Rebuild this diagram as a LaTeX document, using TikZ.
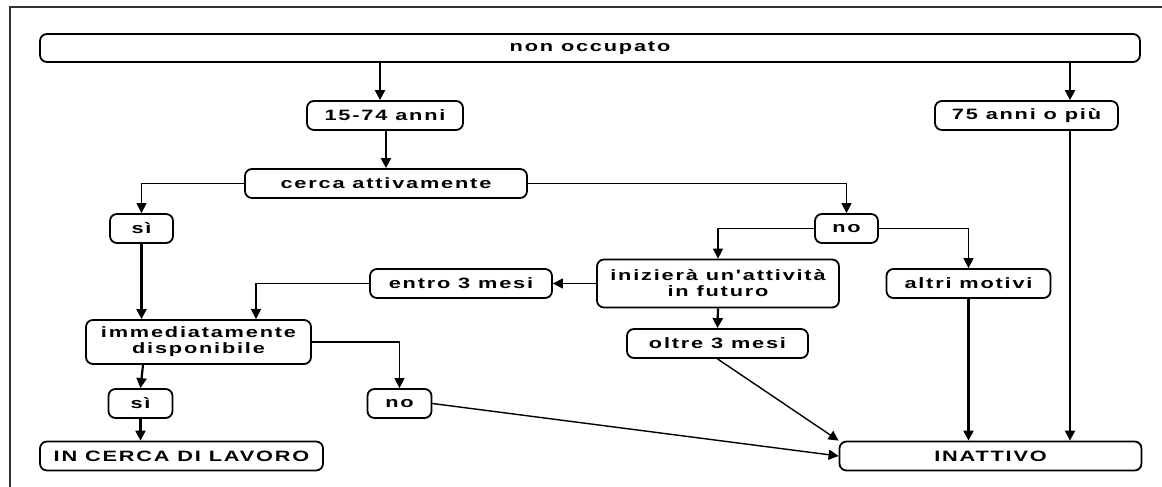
\documentclass[tikz,border=0pt]{standalone}
\usepackage{fontspec}
\newfontfamily\lab[FakeStretch=1.45,LetterSpace=12]{Liberation Sans}
\usetikzlibrary{arrows.meta}
\begin{document}
\begin{tikzpicture}[x=1pt,y=-1pt,
  box/.style={draw,line width=1.8pt,rounded corners=7pt,inner sep=0pt,align=center,
    font=\lab\bfseries\fontsize{15}{16}\selectfont},
  arr/.style={line width=2.2pt,-{Triangle[length=10pt,width=10pt]}},
  ln/.style={line width=1.4pt},
  lnarr/.style={line width=1.4pt,-{Triangle[length=10pt,width=10pt]}}]
\useasboundingbox (0,0) rectangle (1162,487);
\draw[line width=2pt,black!80] (10,487) -- (10,7) -- (1162,7);
\node[box,minimum width=1100pt,minimum height=28pt] (top) at (590,48) {non occupato};
\node[box,minimum width=156pt,minimum height=29pt] (a1574) at (385,115.5) {15-74 anni};
\node[box,minimum width=183pt,minimum height=29pt] (a75) at (1026.5,115.5) {75 anni o più};
\node[box,minimum width=282pt,minimum height=29pt] (cerca) at (386,183.5) {cerca attivamente};
\node[box,minimum width=63pt,minimum height=29pt] (si1) at (141.5,228.5) {sì};
\node[box,minimum width=63pt,minimum height=29pt] (no1) at (846.5,228.5) {no};
\node[box,minimum width=242pt,minimum height=48pt] (iniz) at (718,283.5) {inizierà un'attività\\in futuro};
\node[box,minimum width=182pt,minimum height=29pt] (entro) at (461,283.5) {entro 3 mesi};
\node[box,minimum width=164pt,minimum height=29pt] (altri) at (968.5,283.5) {altri motivi};
\node[box,minimum width=181pt,minimum height=29pt] (oltre) at (717.5,343.5) {oltre 3 mesi};
\node[box,minimum width=225pt,minimum height=44pt] (imm) at (198.5,342) {immediatamente\\disponibile};
\node[box,minimum width=64pt,minimum height=29pt] (no2) at (399.5,403.5) {no};
\node[box,minimum width=64pt,minimum height=29pt] (si2) at (140.5,403.5) {sì};
\node[box,minimum width=283pt,minimum height=29pt] (cerl) at (181.5,456) {IN CERCA DI LAVORO};
\node[box,minimum width=302pt,minimum height=29pt] (inat) at (990.5,456) {INATTIVO};
% connectors
\draw[arr] (top.south -| 380,0) -- (a1574.north -| 380,0);
\draw[arr] (top.south -| 1070,0) -- (a75.north -| 1070,0);
\draw[arr] (a1574.south -| 386,0) -- (cerca.north -| 386,0);
\draw[lnarr] (cerca.west) -| (si1.north);
\draw[lnarr] (cerca.east) -| (no1.north);
\draw[lnarr] (no1.west) -| (iniz.north);
\draw[lnarr] (no1.east) -| (altri.north);
\draw[lnarr] (iniz.west) -- (entro.east);
\draw[lnarr] (entro.west) -| (imm.north -| 256,0);
\draw[arr] (si1.south) -- (imm.north -| si1.south);
\draw[arr] (iniz.south) -- (oltre.north);
\draw[lnarr] (imm.east) -| (no2.north);
\draw[arr] (imm.south -| 143,0) -- (si2.north);
\draw[arr] (si2.south) -- (cerl.north -| si2.south);
\draw[arr] (altri.south) -- (inat.north -| altri.south);
\draw[arr] (a75.south -| 1070,0) -- (inat.north -| 1070,0);
\draw[lnarr] (oltre.south) -- (inat.north west);
\draw[lnarr] (no2.east) -- (inat.west);
\end{tikzpicture}
\end{document}
